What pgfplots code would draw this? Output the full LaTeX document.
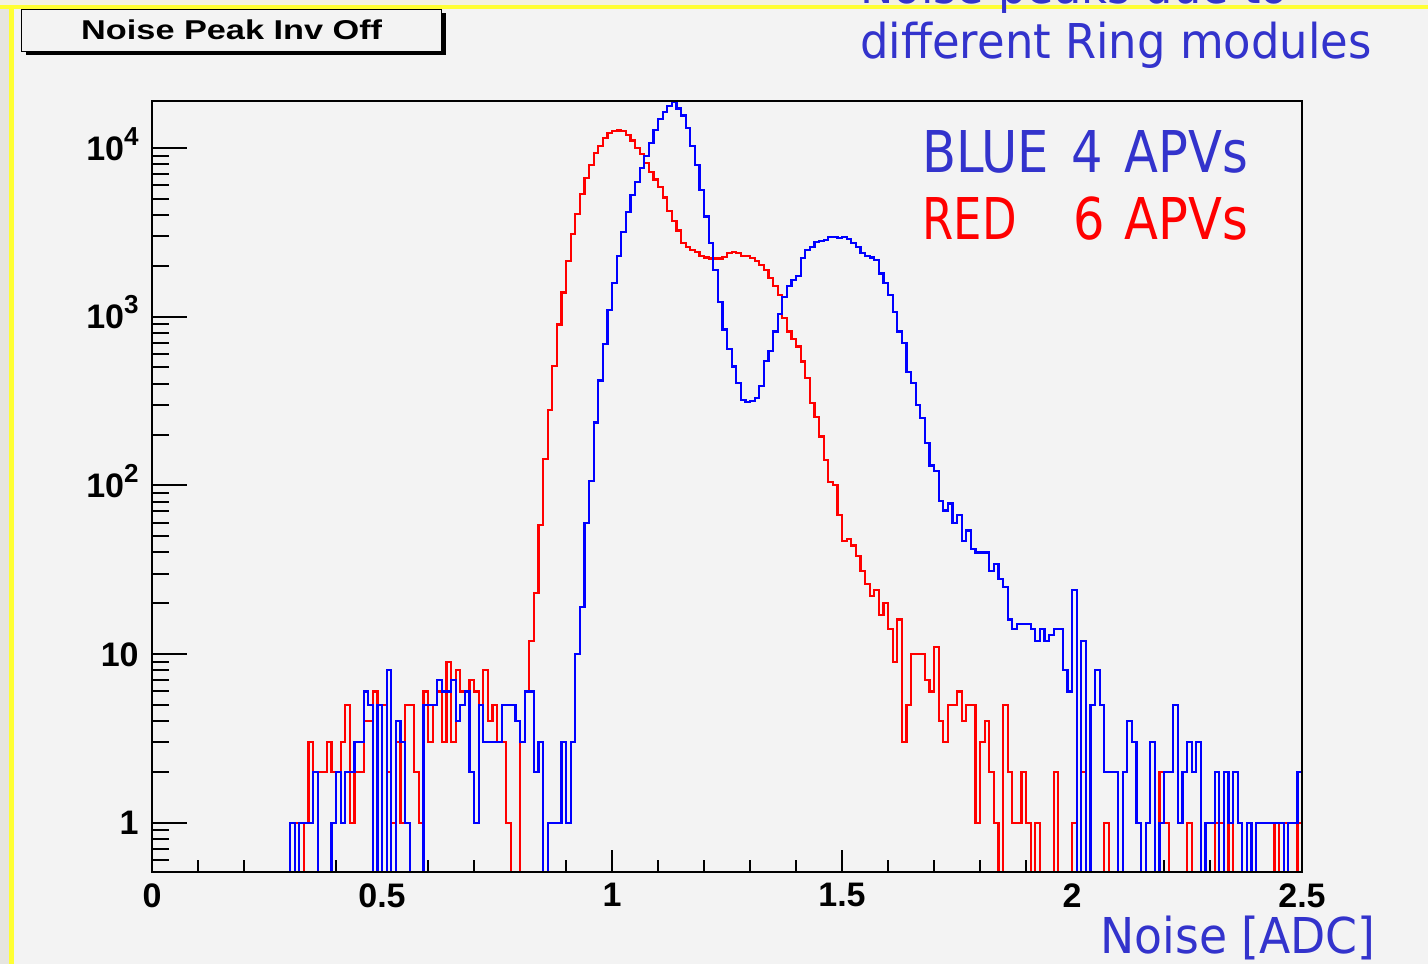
\documentclass[border=0pt]{standalone}
\usepackage{fontspec}
\setmainfont{Liberation Sans}
\newfontfamily\comic{DejaVu Sans}
\usepackage{graphicx}
\usepackage{pgfplots}
\usepackage{pgfplotstable}
\pgfplotsset{compat=1.18}
\definecolor{bg}{HTML}{F3F3F3}
\definecolor{txtblue}{HTML}{3333CC}
\definecolor{ylw}{HTML}{FFFF33}
\definecolor{strip}{HTML}{E6E5E0}
\definecolor{topstrip}{HTML}{F3F1E2}
\newcommand{\ysup}[1]{10\raisebox{7.4pt}{\fontsize{13pt}{13pt}\selectfont\bfseries #1}}

% bin left edge, RED (6 APVs), BLUE (4 APVs); empty bins written as 0.1 (below the axis)
\pgfplotstableread{
x r b
0.00 0.1 0.1
0.30 0.1 1
0.31 1 0.1
0.32 0.1 1
0.33 1 1
0.34 3 1
0.35 2 2
0.36 2 0.1
0.37 2 0.1
0.38 3 0.1
0.39 2 1
0.40 2 2
0.41 3 1
0.42 5 2
0.43 1 2
0.44 2 3
0.45 2 3
0.46 4 6
0.47 4 5
0.48 6 0.1
0.49 5 5
0.50 5 0.1
0.51 2 8
0.52 1 0.1
0.53 3 4
0.54 1 3
0.55 5 1
0.56 5 0.1
0.57 2 0.1
0.58 1 0.1
0.59 6 5
0.60 3 5
0.61 5 5
0.62 6 7
0.63 3 6
0.64 9 6
0.65 3 7
0.66 8 4
0.67 6 5
0.68 6 6
0.69 7 2
0.70 6 1
0.71 5 5
0.72 8 3
0.73 4 3
0.74 5 3
0.75 3 3
0.76 3 5
0.77 1 5
0.78 0.1 5
0.79 0.1 4
0.80 3 3
0.81 6 6
0.82 12 6
0.83 23 2
0.84 58 3
0.85 143 0.1
0.86 280 1
0.87 510 1
0.88 900 1
0.89 1393 3
0.90 2138 1
0.91 3090 3
0.92 4046 10
0.93 5316 19
0.94 6674 60
0.95 7930 106
0.96 9300 236
0.97 10330 418
0.98 11430 687
0.99 12230 1097
1.00 12620 1592
1.01 12700 2302
1.02 12620 3190
1.03 11890 4195
1.04 11090 5265
1.05 10020 6260
1.06 9230 7650
1.07 8150 8980
1.08 7220 10670
1.09 6500 12790
1.10 5870 14850
1.11 5090 16370
1.12 4230 17800
1.13 3690 18700
1.14 3240 17130
1.15 2730 15580
1.16 2600 13100
1.17 2474 10320
1.18 2417 7890
1.19 2300 5650
1.20 2245 3930
1.21 2213 2740
1.22 2213 1892
1.23 2213 1220
1.24 2250 840
1.25 2398 644
1.26 2420 506
1.27 2398 403
1.28 2291 321
1.29 2291 312
1.30 2218 318
1.31 2150 330
1.32 2026 389
1.33 1892 549
1.34 1689 627
1.35 1528 816
1.36 1345 1035
1.37 987 1315
1.38 816 1528
1.39 740 1650
1.40 665 1750
1.41 542 2218
1.42 432 2488
1.43 307 2600
1.44 254 2785
1.45 195 2800
1.46 142 2850
1.47 105 2980
1.48 100 2980
1.49 67 2915
1.50 47 2980
1.51 48 2880
1.52 44 2720
1.53 38 2600
1.54 31 2376
1.55 26 2300
1.56 22 2245
1.57 24 2160
1.58 17 1803
1.59 20 1578
1.60 14 1345
1.61 9 1063
1.62 16 816
1.63 3 696
1.64 5 469
1.65 10 403
1.66 10 300
1.67 10 252
1.68 7 178
1.69 6 131
1.70 11 122
1.71 4 81
1.72 3 71
1.73 5 78
1.74 5 60
1.75 6 67
1.76 4 47
1.77 5 54
1.78 5 42
1.79 1 40
1.80 3 40
1.81 4 40
1.82 2 31
1.83 1 34
1.84 0.1 28
1.85 5 25
1.86 2 16
1.87 1 14
1.88 1 15
1.89 2 15
1.90 1 15
1.91 0.1 14
1.92 1 12
1.93 0.1 14
1.94 0.1 12
1.95 0.1 13
1.96 2 14
1.97 0.1 14
1.98 0.1 8
1.99 0.1 6
2.00 1 24
2.01 0.1 0.1
2.02 2 12
2.03 0.1 0.1
2.04 0.1 5
2.05 0.1 8
2.06 0.1 5
2.07 1 2
2.08 0.1 2
2.09 0.1 2
2.10 0.1 0.1
2.11 0.1 2
2.12 0.1 4
2.13 0.1 3
2.14 0.1 1
2.15 0.1 0.1
2.16 0.1 1
2.17 0.1 3
2.18 0.1 0.1
2.19 2 1
2.20 1 2
2.21 0.1 2
2.22 0.1 5
2.23 0.1 1
2.24 0.1 2
2.25 1 3
2.26 0.1 2
2.27 0.1 3
2.28 0.1 0.1
2.29 0.1 1
2.30 0.1 1
2.31 1 2
2.32 1 0.1
2.33 0.1 2
2.34 1 1
2.35 0.1 2
2.36 0.1 1
2.37 0.1 0.1
2.38 0.1 1
2.39 0.1 0.1
2.40 0.1 1
2.41 0.1 1
2.42 0.1 1
2.43 0.1 1
2.44 1 1
2.45 0.1 1
2.46 1 0.1
2.47 0.1 1
2.48 0.1 1
2.49 1 2
2.50 1 2
}\hist

\begin{document}
\begin{tikzpicture}
\useasboundingbox (0,0) rectangle (714pt,-482pt);
\clip (0,0) rectangle (714pt,-482pt);
\begin{scope}[x=0.5pt,y=-0.5pt]
\fill[bg] (0,0) rectangle (1428,964);
\fill[strip] (0,0) rectangle (10,964);
\fill[topstrip] (0,0) rectangle (1428,6);
\fill[black] (25.5,13) rectangle (445.5,55.3);
\filldraw[fill=bg, draw=black, line width=0.75pt] (21.7,9) rectangle (441.7,51.7);
\node[anchor=base, inner sep=0pt] at (231.7,39.5) {\scalebox{1.26}[1]{\bfseries\fontsize{13.6pt}{13.6pt}\selectfont Noise Peak Inv Off}};
\end{scope}

\begin{axis}[
  at={(76pt,-436pt)}, anchor=south west,
  scale only axis, width=575pt, height=385.5pt,
  xmin=0, xmax=2.5, ymin=0.51, ymax=19000, ymode=log,
  axis line style={line width=1pt},
  xtick={0,0.5,1,1.5,2,2.5},
  xticklabels={0,0.5,1,1.5,2,2.5},
  minor xtick={0.1,0.2,0.3,0.4,0.6,0.7,0.8,0.9,1.1,1.2,1.3,1.4,1.6,1.7,1.8,1.9,2.1,2.2,2.3,2.4},
  ytick=\empty,
  xtick pos=left, tick align=inside,
  major tick length=11pt, minor tick length=6pt,
  tick style={black, line width=1pt},
  xticklabel style={font=\bfseries\fontsize{17pt}{17pt}\selectfont, inner sep=0pt, anchor=north, yshift=-5.5pt},
]
\addplot[const plot mark left, red, line width=1.1pt] table[x=x,y=r]{\hist};
\addplot[const plot mark left, blue, line width=1.1pt] table[x=x,y=b]{\hist};
\end{axis}

\begin{axis}[
  at={(76pt,-436pt)}, anchor=south west,
  scale only axis, width=575pt, height=385.5pt,
  xmin=0, xmax=2.5, ymin=0.51, ymax=19000, ymode=log,
  axis line style={line width=1pt},
  xtick=\empty,
  ytick={1,10,100,1000,10000},
  yticklabels={1,10,\ysup{2},\ysup{3},\ysup{4}},
  minor ytick={0.6,0.7,0.8,0.9,2,3,4,5,6,7,8,9,20,30,40,50,60,70,80,90,200,300,400,500,600,700,800,900,2000,3000,4000,5000,6000,7000,8000,9000},
  ytick pos=left, tick align=inside,
  major tick length=17.5pt, minor tick length=8.5pt,
  tick style={black, line width=1pt},
  yticklabel style={font=\bfseries\fontsize{17pt}{17pt}\selectfont, inner sep=0pt, anchor=base east, xshift=-6.5pt, yshift=-6pt},
]
\end{axis}

\begin{scope}[x=0.5pt,y=-0.5pt]
\fill[ylw] (0,5) rectangle (1428,9.3);
\fill[ylw] (9.3,5) rectangle (14,964);
\node[anchor=base west, inner sep=0pt, text=txtblue] at (860,3) {\scalebox{0.93}[1]{\comic\fontsize{24pt}{24pt}\selectfont Noise peaks due to}};
\node[anchor=base west, inner sep=0pt, text=txtblue] at (860,58.3) {\scalebox{0.935}[1]{\comic\fontsize{24pt}{24pt}\selectfont different Ring modules}};
\node[anchor=base west, inner sep=0pt, text=txtblue] at (922,172.7) {\scalebox{0.86}[1]{\comic\fontsize{28.8pt}{28.8pt}\selectfont BLUE}};
\node[anchor=base west, inner sep=0pt, text=txtblue] at (1071,172.7) {\scalebox{0.86}[1]{\comic\fontsize{28.8pt}{28.8pt}\selectfont 4}};
\node[anchor=base west, inner sep=0pt, text=txtblue] at (1124,172.7) {\scalebox{0.86}[1]{\comic\fontsize{28.8pt}{28.8pt}\selectfont APVs}};
\node[anchor=base west, inner sep=0pt, text=red] at (922,239.3) {\scalebox{0.78}[1]{\comic\fontsize{28.8pt}{28.8pt}\selectfont RED}};
\node[anchor=base west, inner sep=0pt, text=red] at (1073,239.3) {\scalebox{0.86}[1]{\comic\fontsize{28.8pt}{28.8pt}\selectfont 6}};
\node[anchor=base west, inner sep=0pt, text=red] at (1124,239.3) {\scalebox{0.86}[1]{\comic\fontsize{28.8pt}{28.8pt}\selectfont APVs}};
\node[anchor=base west, inner sep=0pt, text=txtblue] at (1100,953) {\scalebox{0.925}[1]{\comic\fontsize{24.7pt}{24.7pt}\selectfont Noise [ADC]}};
\end{scope}
\end{tikzpicture}
\end{document}
